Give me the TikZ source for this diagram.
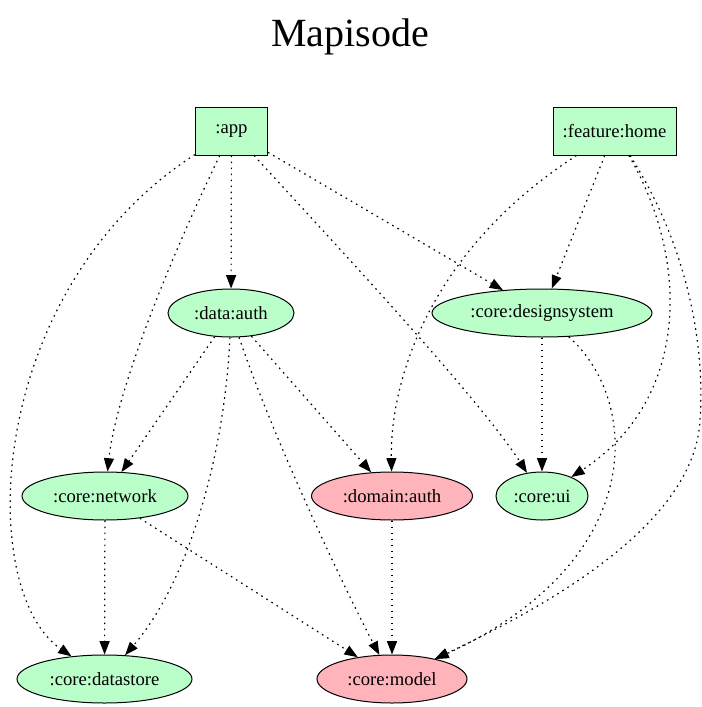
\documentclass[tikz,border=0pt]{standalone}
\usepackage{fontspec}
\setmainfont{Liberation Serif}
\usetikzlibrary{shapes.geometric,arrows.meta}
\definecolor{cG}{HTML}{BAFFC9}
\definecolor{cR}{HTML}{FFB3BA}
\tikzset{mybox/.style={
  shape=rectangle,
  draw=black,
  fill=cG,
  line width=0.75pt,
  minimum height=36pt,
  inner sep=0pt,
  font=\fontsize{14}{16}\selectfont,
  }
}
\tikzset{myell/.style={
  shape=ellipse,
  draw=black,
  fill=cG,
  line width=0.75pt,
  minimum height=36pt,
  inner sep=0pt,
  font=\fontsize{14}{16}\selectfont,
  }
}
\tikzset{myellR/.style={
  myell,
  fill=cR,
  }
}
\tikzset{mydep/.style={
  -{Triangle[length=10pt,width=7.5pt]},
  line width=0.9pt,
  dash pattern=on 1.2pt off 3.3pt,
  }
}

\begin{document}
\begin{tikzpicture}[x=0.75pt,y=-0.75pt]
      \useasboundingbox (0,0) rectangle (701,707);
      \node [font=\fontsize{30}{34}\selectfont] (title) at (350,37) {Mapisode};

      \node [mybox, minimum width=54pt] (app) at (231.5,131) {:app};
      \node [mybox, minimum width=92.25pt] (home) at (614.5,131) {:feature:home};

      \node [myell, minimum width=94.5pt] (dauth) at (231,313) {:data:auth};
      \node [myell, minimum width=165pt] (dsys) at (542,313) {:core:designsystem};

      \node [myell, minimum width=124.5pt] (net) at (105,496) {:core:network};
      \node [myellR, minimum width=120.75pt] (domauth) at (392,496) {:domain:auth};
      \node [myell, minimum width=69pt] (ui) at (542,496) {:core:ui};

      \node [myell, minimum width=131.25pt] (store) at (104.5,679) {:core:datastore};
      \node [myellR, minimum width=112.5pt] (model) at (392,679) {:core:model};

      % :app
      \draw [mydep] (app) .. controls (-15,290) and (-25,590) .. (store);
      \draw [mydep] (app) .. controls (160,280) and (115,400) .. (net);
      \draw [mydep] (app) -- (dauth);
      \draw [mydep] (app) .. controls (350,260) and (480,400) .. (ui);
      \draw [mydep] (app) -- (dsys);

      % :feature:home
      \draw [mydep] (home) .. controls (430,250) and (390,380) .. (domauth);
      \draw [mydep] (home) -- (dsys);
      \draw [mydep] (home) .. controls (690,260) and (690,400) .. (ui);
      \draw [mydep] (home) .. controls (690,250) and (705,350) .. (700,420)
                           .. controls (695,520) and (560,600) .. (model);

      % :data:auth
      \draw [mydep] (dauth) -- (net);
      \draw [mydep] (dauth) .. controls (225,450) and (190,580) .. (store);
      \draw [mydep] (dauth) -- (domauth);
      \draw [mydep] (dauth) .. controls (270,430) and (340,580) .. (model);

      % :core:designsystem
      \draw [mydep] (dsys) -- (ui);
      \draw [mydep] (dsys) .. controls (640,400) and (650,560) .. (model);

      % the rest
      \draw [mydep] (net) -- (store);
      \draw [mydep] (net) -- (model);
      \draw [mydep] (domauth) -- (model);
    \end{tikzpicture}
\end{document}
